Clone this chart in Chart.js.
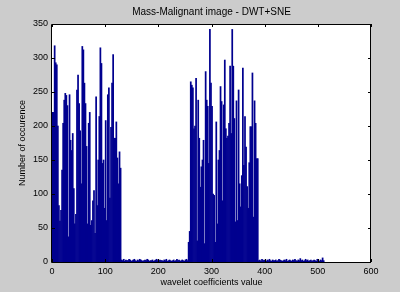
<!DOCTYPE html>
<html>
<head>
<meta charset="utf-8">
<script src="https://cdn.jsdelivr.net/npm/chart.js@4/dist/chart.umd.min.js"></script>
<style>
html,body{margin:0;padding:0;background:#cccccc;}
#wrap{width:400px;height:292px;position:relative;}
</style>
</head>
<body>
<div id="wrap"><canvas id="c" width="400" height="292"></canvas></div>
<script>
// ---- data (histogram counts, bin width 2) ----
const titleText = "Mass-Malignant image - DWT+SNE";
const xLabel = "wavelet coefficients value";
const yLabel = "Number of occurence";
const xTicks = [0, 100, 200, 300, 400, 500, 600];
const yTicks = [0, 50, 100, 150, 200, 250, 300, 350];
const binWidth = 2;

const cluster1Start = 0;
const cluster1Counts = [220,220,318,293,290,200,83,60,76,135,204,238,248,245,230,37,246,179,164,189,
  108,56,70,253,275,233,193,115,317,312,263,233,170,56,204,220,54,61,90,105,
  42,243,83,150,214,315,292,145,150,79,208,61,246,256,94,198,263,305,182,182,
  206,153,115,162,138];

const gap1Start = 130;
const gap1Counts = [3,2,4,1,3,2,2,4,3,
  1,2,3,4,2,1,3,2,4,
  3,2,1,2,3,2,4,3,1,
  2,2,3,1,2,3,4,2,1,
  3,2,2,1,3,2,4,1,2,
  3,2,1,2,3,1,2,4,2,
  3,1,2,3,2,1,3,4,2];

const cluster2Start = 256;
const cluster2Counts = [29,45,265,260,256,196,200,270,31,238,182,110,140,150,179,27,280,238,229,145,342,
  263,229,100,98,29,206,56,150,164,258,236,
  90,231,297,196,182,185,204,288,189,342,
  288,211,59,237,61,253,115,81,127,285,142,214,169,111,79,146,199,199,278,66,237,204,152,152];

const gap2Start = 388;
const gap2Counts = [2,3,1,4,2,3,2,1,3,2,
  4,2,1,3,2,2,3,1,2,4,
  3,2,1,2,3,2,4,1,2,3,
  2,1,3,2,4,2,1,3,2,5,
  2,3,1,2,4,2,3,1,2,3,
  1,2,3,2,1,4,2,1,3,2,
  6,2];

// build points: bar centred in its bin
const segments = [
  [cluster1Start, cluster1Counts],
  [gap1Start, gap1Counts],
  [cluster2Start, cluster2Counts],
  [gap2Start, gap2Counts]
];
const points = [];
segments.forEach(([start, counts]) => {
  counts.forEach((v, i) => points.push({x: start + i * binWidth + binWidth / 2, y: v}));
});

const FONT = "'Liberation Sans', Arial, sans-serif";

const framePlugin = {
  id: 'frame',
  beforeDraw(chart) {
    const {ctx, chartArea: a} = chart;
    ctx.save();
    ctx.fillStyle = '#cccccc';
    ctx.fillRect(0, 0, chart.width, chart.height);
    ctx.fillStyle = '#ffffff';
    ctx.fillRect(a.left, a.top, a.right - a.left, a.bottom - a.top);
    ctx.restore();
  },
  afterDraw(chart) {
    const {ctx, chartArea: a, scales} = chart;
    ctx.save();
    ctx.strokeStyle = '#000000';
    ctx.lineWidth = 1;
    ctx.beginPath();
    ctx.rect(Math.round(a.left) - 0.5, Math.round(a.top) + 0.5, Math.round(a.right - a.left), Math.round(a.bottom - a.top));
    ctx.stroke();
    const tl = 3;
    ctx.beginPath();
    xTicks.forEach(t => {
      const px = Math.round(scales.x.getPixelForValue(t)) + 0.5;
      ctx.moveTo(px, a.bottom); ctx.lineTo(px, a.bottom - tl);
      ctx.moveTo(px, a.top); ctx.lineTo(px, a.top + tl);
    });
    yTicks.forEach(t => {
      const py = Math.round(scales.y.getPixelForValue(t)) + 0.5;
      ctx.moveTo(a.left, py); ctx.lineTo(a.left + tl, py);
      ctx.moveTo(a.right, py); ctx.lineTo(a.right - tl, py);
    });
    ctx.stroke();
    // texts
    ctx.fillStyle = '#000000';
    ctx.textAlign = 'center';
    ctx.textBaseline = 'middle';
    const cx = (a.left + a.right) / 2;
    ctx.font = '10px ' + FONT;
    ctx.fillText(titleText, cx, 12);
    ctx.font = '9px ' + FONT;
    ctx.fillText(xLabel, cx, 283);
    ctx.translate(23, (a.top + a.bottom) / 2);
    ctx.rotate(-Math.PI / 2);
    ctx.fillText(yLabel, 0, 0);
    ctx.restore();
  }
};

new Chart(document.getElementById('c'), {
  type: 'bar',
  data: {
    datasets: [{
      data: points,
      backgroundColor: '#00008f',
      borderWidth: 0,
      barPercentage: 1,
      categoryPercentage: 1
    }]
  },
  options: {
    responsive: false,
    animation: false,
    layout: {padding: {left: 0, right: 29, top: 24, bottom: 0}},
    plugins: {legend: {display: false}, title: {display: false}, tooltip: {enabled: false}},
    scales: {
      x: {
        type: 'linear', min: 0, max: 600, offset: false,
        afterFit(s) { s.height = 30; },
        afterBuildTicks(s) { s.ticks = xTicks.map(v => ({value: v})); },
        grid: {display: false, drawTicks: false, offset: false},
        border: {display: false},
        ticks: {font: {size: 9, family: FONT}, color: '#000', padding: 4, maxRotation: 0, autoSkip: false}
      },
      y: {
        type: 'linear', min: 0, max: 350,
        afterFit(s) { s.width = 52; },
        afterBuildTicks(s) { s.ticks = yTicks.map(v => ({value: v})); },
        grid: {display: false, drawTicks: false},
        border: {display: false},
        ticks: {font: {size: 9, family: FONT}, color: '#000', padding: 4}
      }
    }
  },
  plugins: [framePlugin]
});
</script>
</body>
</html>
